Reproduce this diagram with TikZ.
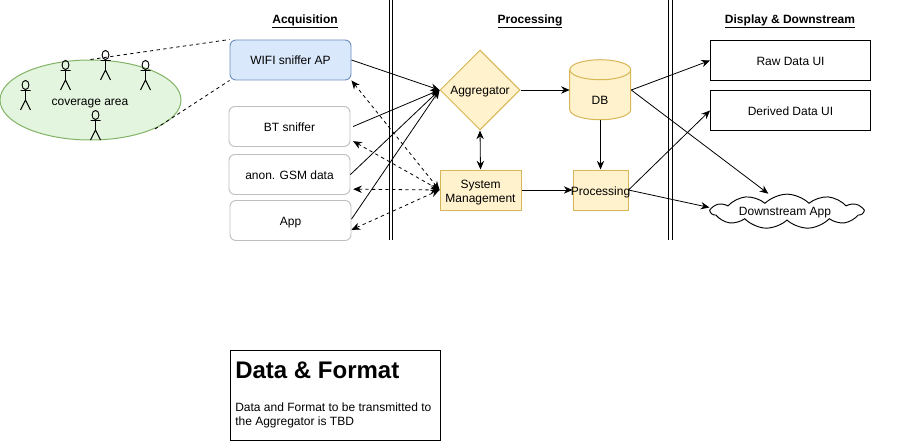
\documentclass[tikz,border=0pt]{standalone}
\usepackage{fontspec}
\setmainfont{Liberation Sans}
\usetikzlibrary{arrows.meta,shapes.geometric,shapes.symbols}
\definecolor{yfill}{HTML}{FFF2CC}
\definecolor{ydraw}{HTML}{D6B656}
\definecolor{bfill}{HTML}{DAE8FC}
\definecolor{bdraw}{HTML}{6C8EBF}
\definecolor{gfill}{HTML}{E3F5DF}
\definecolor{gdraw}{HTML}{82B366}
\tikzset{
    every node/.style = {font = \fontsize{9}{10.5}\selectfont, align = center, inner sep = 0pt, text height = 7pt, text depth = 0pt},
    freetext/.style = {text height =, text depth =},
    source/.style = {draw = black!25, line width = 0.7pt, rounded corners = 4.5pt, minimum width = 90.75pt, minimum height = 30pt},
    yellowbox/.style = {draw = ydraw, fill = yfill, line width = 0.75pt, minimum height = 30pt},
    uibox/.style = {draw, line width = 0.75pt, minimum width = 120pt, minimum height = 30pt},
    heading/.style = {font = \fontsize{9}{10.5}\selectfont\bfseries, freetext},
    link/.style = {->, line width = 0.6pt},
    back/.style = {<->, line width = 0.6pt, dashed, dash pattern = on 2.5pt off 2.5pt},
    wall/.style = {line width = 0.75pt},
    actor/.pic = {
        \draw [line width = 0.7pt] (0,5) ellipse (2.6pt and 3.4pt)
        (0,10)--(0,20) (-5,10.5)--(5,10.5) (-5,30)--(0,20)--(5,30);
    }
}
\begin{document}
\begin{tikzpicture}[x = 0.75pt, y = -0.75pt, > = {Stealth[length = 6.5pt, width = 5.5pt]}]
        \useasboundingbox (0,0) rectangle (912,442);
        %Coverage
        \node [ellipse, draw = gdraw, fill = gfill, line width = 0.75pt, minimum width = 135.75pt, minimum height = 60pt]
        (cov)at(90.5,100){};
        \node (covtext)at(90,101){coverage area};
        \pic at (25.5,80) {actor};
        \pic at (65.5,60) {actor};
        \pic at (105.5,50) {actor};
        \pic at (145.5,60) {actor};
        \pic at (95.5,110) {actor};
        \coordinate (covb) at (155,129);
        %Acquisition
        \node [source, draw = bdraw, fill = bfill]
        (wifi)at(290.5,60){WIFI sniffer AP};
        \node [source]
        (bt)at(289.5,126.5){BT sniffer};
        \node [source]
        (gsm)at(289.5,174.5){anon. GSM data};
        \node [source]
        (app)at(290.5,220.5){App};
        %Processing
        \node [diamond, aspect = 1, draw = ydraw, fill = yfill, line width = 0.75pt, minimum width = 60pt, minimum height = 60pt]
        (agg)at(480,90){Aggregator};
        \node [yellowbox, minimum width = 60.75pt]
        (sys)at(480.5,190){};
        \node [freetext]
        (systext)at(480.5,193){System\\Management};
        \node [minimum width = 45.75pt, minimum height = 45pt]
        (db)at(600.5,90){};
        \draw [draw = ydraw, fill = yfill, line width = 0.75pt]
        (db.north west)++(0,10) arc [start angle = 180, end angle = 0, x radius = 22.875pt, y radius = 7.5pt]
        -- ++(0,40) arc [start angle = 0, end angle = -180, x radius = 22.875pt, y radius = 7.5pt] -- cycle;
        \draw [draw = ydraw, line width = 0.75pt]
        (db.north west)++(0,10) arc [start angle = 180, end angle = 360, x radius = 22.875pt, y radius = 7.5pt];
        \node (dbtext)at(600,100){DB};
        \node [yellowbox, minimum width = 41.25pt]
        (proc)at(600.5,190){};
        \node (proctext)at(600.5,191){Processing};
        %Display
        \node [uibox]
        (raw)at(790.5,60.5){Raw Data UI};
        \node [uibox]
        (derived)at(790.5,110.5){Derived Data UI};
        \node [cloud, cloud puffs = 11, cloud puff arc = 90, aspect = 4.2, draw, line width = 0.7pt, minimum width = 114pt, minimum height = 26pt]
        (down)at(787,211.5){};
        \node (downtext)at(785,211){Downstream App};
        %Headings
        \node [heading] (h1)at(305,21.5){\underline{Acquisition}};
        \node [heading] (h2)at(530,21.5){\underline{Processing}};
        \node [heading] (h3)at(790,21.5){\underline{Display \& Downstream}};
        %Walls
        \draw [wall] (389,0)--(389,240) (392.5,0)--(392.5,240);
        \draw [wall] (668.5,0)--(668.5,240) (672,0)--(672,240);
        %Data box
        \node [draw, line width = 0.75pt, minimum width = 157.5pt, minimum height = 67.5pt]
        (data)at(335.5,395){};
        \node [anchor = west, font = \fontsize{18}{20}\selectfont\bfseries, freetext]
        (datahead)at(235,370){Data \& Format};
        \node [anchor = north west, align = left, freetext]
        (datatext)at(235,402.5){Data and Format to be transmitted to\\the Aggregator is TBD};
        %Coverage links
        \draw [line width = 0.6pt, dashed, dash pattern = on 2.5pt off 2.5pt] (cov.north)--(wifi.north west);
        \draw [line width = 0.6pt, dashed, dash pattern = on 2.5pt off 2.5pt] (covb)--(wifi.south west);
        %Links
        \draw [link] (wifi.east)--(agg.west);
        \draw [link] ([xshift = 2pt]bt.east)--(agg.west);
        \draw [link] (gsm.east)--(agg.west);
        \draw [link] ([yshift = 1pt]app.east)--(agg.west);
        \draw [back] (wifi.south east)--(sys.west);
        \draw [back] ([xshift = 2pt, yshift = -11pt]bt.east)--(sys.west);
        \draw [back] ([xshift = 2pt, yshift = -11pt]gsm.east)--(sys.west);
        \draw [back] ([yshift = -7pt]app.east)--(sys.west);
        \draw [<->, line width = 0.6pt] (agg.south)--(sys.north);
        \draw [link] (agg.east)--(db.west);
        \draw [link] (db.south)--(proc.north);
        \draw [link] (sys.east)--(proc.west);
        \draw [link] (db.east)--(raw.west);
        \draw [link] (db.east)--([xshift = -14pt]down.north);
        \draw [link] (proc.east)--(derived.west);
        \draw [link] (proc.east)--([yshift = 3pt]down.west);
\end{tikzpicture}
\end{document}
